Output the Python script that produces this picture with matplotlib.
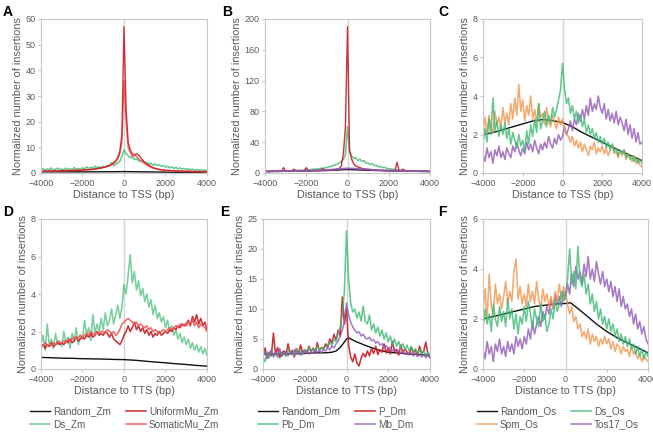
import matplotlib
matplotlib.use("Agg")
import matplotlib.pyplot as plt

plt.rcParams['font.family'] = ['Liberation Sans', 'DejaVu Sans']

# ---------------- data ----------------
x100 = list(range(-4000, 4001, 100))
x500 = list(range(-4000, 4001, 500))

# Panel A (TSS, maize)
A_random = [0.45, 0.45, 0.45, 0.45, 0.45, 0.45, 0.5, 0.5, 0.55, 0.5, 0.45, 0.4, 0.35, 0.3, 0.3, 0.25, 0.25]
A_uniform = [0.7, 0.7, 0.8, 0.7, 0.8, 0.8, 0.8, 0.9, 0.8, 0.9,
             0.9, 0.9, 1.0, 0.9, 1.0, 1.0, 1.1, 1.0, 1.1, 1.1,
             1.2, 1.2, 1.3, 1.3, 1.4, 1.5, 1.6, 1.7, 1.9, 2.0,
             2.2, 2.4, 2.7, 3.0, 3.4, 4.0, 4.8, 6.0, 8.5, 15.0,
             57.0, 25.0, 12.0, 9.0, 7.5, 7.0, 7.5, 7.0, 6.0, 5.0,
             4.2, 3.5, 3.0, 2.5, 2.1, 1.8, 1.6, 1.4, 1.3, 1.2,
             1.1, 1.0, 1.0, 0.9, 0.9, 0.8, 0.8, 0.8, 0.7, 0.7,
             0.7, 0.7, 0.6, 0.6, 0.6, 0.6, 0.6, 0.5, 0.5, 0.5,
             0.5]
A_somatic = [0.6, 0.7, 0.7, 0.7, 0.7, 0.8, 0.8, 0.8, 0.8, 0.8,
             0.9, 0.9, 0.9, 0.9, 1.0, 1.0, 1.0, 1.0, 1.1, 1.1,
             1.1, 1.2, 1.2, 1.3, 1.3, 1.4, 1.5, 1.6, 1.8, 1.9,
             2.1, 2.3, 2.5, 2.8, 3.2, 3.7, 4.4, 5.5, 7.5, 12.0,
             36.0, 20.0, 10.0, 8.0, 6.5, 6.8, 6.5, 5.5, 4.8, 4.2,
             3.6, 3.1, 2.6, 2.2, 1.9, 1.7, 1.5, 1.3, 1.2, 1.1,
             1.0, 0.9, 0.9, 0.8, 0.8, 0.8, 0.7, 0.7, 0.7, 0.6,
             0.6, 0.6, 0.6, 0.5, 0.5, 0.5, 0.5, 0.5, 0.4, 0.4,
             0.4]
A_ds = [1.2, 1.8, 1.0, 1.6, 1.3, 2.0, 1.1, 1.5, 1.9, 1.2,
        1.6, 1.1, 1.9, 1.4, 1.7, 1.2, 2.1, 1.5, 1.8, 1.3,
        2.0, 1.6, 2.3, 1.8, 2.2, 1.9, 2.6, 2.1, 2.4, 2.0,
        2.6, 2.2, 3.0, 2.5, 4.0, 2.8, 3.4, 3.9, 4.6, 6.5,
        9.0, 7.5, 6.8, 5.9, 6.4, 5.2, 5.6, 4.8, 4.4, 4.9,
        3.9, 4.2, 3.4, 3.8, 3.0, 3.6, 2.9, 3.2, 2.6, 2.9,
        2.3, 2.6, 2.0, 2.4, 1.8, 2.2, 1.6, 2.0, 1.5, 1.8,
        1.3, 1.7, 1.2, 1.5, 1.1, 1.4, 1.0, 1.3, 0.9, 1.2,
        1.0]

# Panel B (TSS, Drosophila)
B_random_x = [-4000, -3000, -2000, -1000, -500, 0, 500, 1000, 2000, 3000, 4000]
B_random = [2.0, 2.3, 2.7, 3.2, 3.8, 4.5, 4.0, 3.5, 2.8, 2.3, 2.0]
B_mb_x = [-4000, -3000, -2000, -1500, -1000, -500, 0, 500, 1000, 1500, 2000, 3000, 4000]
B_mb = [2.0, 2.5, 3.0, 3.5, 4.0, 5.0, 6.0, 5.5, 4.5, 3.8, 3.2, 2.5, 2.0]
B_p = [2.0, 2.5, 1.8, 3.0, 2.2, 2.6, 1.9, 3.2, 2.4, 7.0,
       2.5, 3.0, 2.2, 2.8, 5.0, 2.6, 3.2, 2.4, 3.0, 2.7,
       7.0, 3.0, 2.6, 3.4, 2.8, 3.3, 2.9, 3.5, 6.0, 3.2,
       3.6, 3.3, 4.0, 3.8, 4.5, 5.0, 6.0, 9.0, 25.0, 60.0,
       190.0, 30.0, 18.0, 12.0, 9.0, 8.0, 7.0, 6.0, 5.5, 5.0,
       4.8, 4.5, 4.2, 4.0, 3.8, 3.6, 3.5, 3.4, 3.3, 3.2,
       3.0, 3.1, 2.9, 3.0, 14.0, 2.8, 3.0, 5.0, 2.7, 2.9,
       2.6, 2.8, 2.5, 2.7, 2.4, 2.6, 2.3, 2.5, 2.2, 2.4,
       2.0]
B_pb = [1.5, 2.5, 1.0, 2.2, 1.8, 3.0, 1.6, 2.4, 2.0, 2.8,
        2.2, 3.0, 2.5, 3.4, 2.8, 3.6, 3.0, 3.8, 3.2, 4.0,
        3.6, 4.4, 4.0, 5.0, 4.5, 5.6, 5.0, 6.2, 5.6, 6.8,
        7.0, 8.0, 8.5, 9.5, 10.5, 11.5, 13.0, 15.0, 18.0, 24.0,
        60.0, 28.0, 22.0, 19.0, 20.0, 16.0, 18.0, 15.0, 16.0, 13.0,
        13.0, 11.0, 12.0, 9.5, 10.0, 8.0, 8.5, 7.0, 7.5, 6.0,
        5.6, 5.2, 4.8, 4.5, 4.2, 4.0, 3.7, 3.5, 3.3, 3.1,
        3.0, 2.9, 2.7, 2.6, 2.5, 2.4, 2.3, 2.2, 2.1, 2.0,
        2.0]

# Panel C (TSS, rice)
C_random = [2.0, 2.1, 2.25, 2.4, 2.55, 2.7, 2.78, 2.72, 2.62, 2.4, 2.1, 1.85, 1.6, 1.35, 1.1, 0.88, 0.65]
C_spm = [2.2, 2.9, 2.0, 3.0, 2.4, 2.1, 3.2, 2.5, 2.9, 2.3,
         3.4, 2.6, 3.1, 2.5, 3.6, 2.8, 3.9, 3.0, 4.6, 3.2,
         3.8, 2.7, 3.5, 3.0, 4.0, 2.8, 3.3, 2.6, 3.6, 2.9,
         3.1, 2.5, 3.4, 2.7, 2.4, 3.0, 2.6, 2.3, 2.9, 2.5,
         2.8, 2.3, 2.0, 1.9, 1.6, 1.9, 1.4, 1.7, 1.3, 1.6,
         1.1, 1.5, 1.2, 0.9, 1.4, 1.2, 1.6, 1.0, 1.3, 1.1,
         1.4, 1.0, 1.3, 0.9, 1.2, 1.5, 1.0, 1.1, 0.8, 1.2,
         0.9, 1.2, 0.7, 1.0, 0.8, 0.6, 0.9, 0.5, 0.7, 0.4,
         0.3]
C_ds = [1.5, 2.3, 1.6, 2.8, 2.0, 3.9, 2.2, 2.7, 1.9, 2.5,
        2.0, 2.6, 1.8, 2.3, 1.5, 2.1, 1.7, 1.3, 2.0, 1.4,
        1.7, 1.1, 2.2, 1.5, 2.5, 1.9, 2.8, 2.1, 3.6, 2.3,
        2.7, 3.2, 2.4, 3.0, 2.6, 3.4, 2.9, 3.3, 3.8, 4.3,
        5.7, 4.4, 3.6, 3.9, 3.1, 3.5, 2.8, 3.2, 2.6, 3.0,
        2.4, 2.8, 2.1, 2.5, 2.0, 2.3, 1.8, 2.1, 1.6, 1.9,
        1.5, 1.8, 1.3, 1.6, 1.2, 1.5, 1.1, 1.3, 0.9, 1.2,
        1.0, 1.2, 0.8, 1.0, 0.7, 0.9, 0.6, 0.8, 0.5, 0.7,
        0.5]
C_tos17 = [1.0, 0.6, 1.3, 0.8, 1.1, 0.5, 1.2, 0.9, 1.4, 0.8,
           1.1, 0.7, 1.3, 1.0, 0.8, 1.4, 1.1, 1.6, 1.2, 0.9,
           1.3, 1.0, 1.6, 1.2, 1.5, 1.1, 1.7, 1.3, 1.0, 1.5,
           1.2, 1.6, 1.3, 1.9, 1.5, 1.3, 1.8, 1.5, 2.0, 1.7,
           1.9, 2.4, 2.0, 2.3, 2.7, 2.2, 2.8, 2.5, 3.1, 2.7,
           3.3, 2.8, 3.5, 3.0, 3.9, 3.2, 3.6, 3.3, 4.0, 3.4,
           3.1, 3.6, 2.8, 3.3, 2.7, 3.1, 2.6, 3.2, 2.5, 2.9,
           2.6, 2.2, 2.8, 2.0, 2.5, 1.8, 2.3, 1.6, 2.1, 1.5,
           1.6]

# Panel D (TTS, maize)
D_random = [0.62, 0.6, 0.58, 0.57, 0.55, 0.54, 0.53, 0.51, 0.5, 0.47, 0.42, 0.37, 0.33, 0.28, 0.24, 0.19, 0.15]
D_ds = [1.3, 1.8, 1.0, 2.4, 1.2, 1.6, 1.1, 1.9, 1.3, 1.5,
        1.2, 2.0, 1.4, 1.7, 1.1, 1.9, 1.5, 2.2, 1.3, 1.8,
        1.6, 2.6, 1.8, 2.2, 1.5, 2.9, 1.9, 2.4, 2.0, 2.7,
        2.1, 3.0, 2.3, 2.6, 3.2, 2.4, 2.9, 3.4, 2.7, 3.3,
        4.5, 4.0, 5.0, 6.1, 4.6, 5.2, 4.2, 4.7, 3.9, 4.3,
        3.6, 4.0, 3.3, 3.7, 2.9, 3.4, 2.7, 3.0, 2.5, 2.8,
        2.2, 2.6, 2.0, 2.3, 1.8, 2.1, 1.6, 1.9, 1.4, 1.7,
        1.3, 1.6, 1.1, 1.4, 1.0, 1.3, 0.9, 1.2, 0.8, 1.1,
        0.7]
D_uniform = [1.2, 1.3, 1.1, 1.3, 1.2, 1.4, 1.2, 1.3, 1.4, 1.3,
             1.4, 1.3, 1.5, 1.4, 1.6, 1.4, 1.5, 1.7, 1.5, 1.6,
             1.7, 1.6, 1.8, 1.7, 1.9, 1.7, 1.8, 2.0, 1.8, 1.9,
             1.8, 2.0, 1.9, 1.7, 1.9, 1.6, 1.5, 1.4, 1.3, 1.5,
             1.8, 2.0, 2.3, 2.0, 2.2, 2.5, 2.1, 2.3, 2.0, 2.2,
             1.9, 2.1, 1.8, 2.0, 1.7, 1.9, 1.8, 2.0, 1.8, 1.9,
             2.0, 1.9, 2.1, 2.0, 2.2, 2.1, 2.3, 2.2, 2.4, 2.3,
             2.4, 2.6, 2.3, 2.8, 2.5, 2.9, 2.4, 2.7, 2.3, 2.5,
             2.1]
D_somatic = [1.3, 1.2, 1.4, 1.3, 1.2, 1.3, 1.4, 1.3, 1.5, 1.4,
             1.4, 1.5, 1.4, 1.6, 1.5, 1.6, 1.7, 1.6, 1.7, 1.8,
             1.7, 1.8, 1.9, 1.8, 2.0, 1.9, 1.8, 2.0, 1.9, 2.0,
             2.0, 1.9, 2.1, 2.0, 1.9, 2.0, 1.8, 1.9, 2.1, 2.4,
             2.5, 2.6, 2.7, 2.6, 2.5, 2.4, 2.5, 2.3, 2.4, 2.3,
             2.2, 2.3, 2.1, 2.2, 2.0, 2.1, 2.0, 1.9, 2.0, 2.1,
             2.0, 2.1, 2.2, 2.1, 2.2, 2.3, 2.2, 2.4, 2.3, 2.4,
             2.3, 2.5, 2.4, 2.6, 2.3, 2.5, 2.2, 2.4, 2.3, 2.2,
             2.0]

# Panel E (TTS, Drosophila)
E_random_x = [-4000, -3000, -2000, -1500, -1000, -700, -500, -300, -100, 0, 100, 200, 500, 1000, 1500, 2000, 3000, 4000]
E_random = [2.5, 2.5, 2.6, 2.7, 2.7, 2.8, 3.0, 3.6, 4.5, 5.0, 5.2, 5.0, 4.5, 3.8, 3.2, 2.8, 2.5, 2.3]
E_p = [2.5, 3.5, 1.8, 2.8, 2.2, 6.0, 2.4, 3.6, 1.9, 2.7,
       3.0, 2.3, 4.2, 2.6, 3.1, 2.0, 3.4, 2.5, 4.0, 2.8,
       3.2, 2.6, 3.8, 2.9, 3.5, 2.7, 4.4, 3.0, 3.6, 3.3,
       4.2, 3.6, 5.0, 4.3, 5.8, 4.8, 6.5, 5.5, 12.0, 7.5,
       10.0, 4.0, 2.0, 1.2, 2.5, 1.0, 0.5, 1.8, 2.6, 2.0,
       3.0, 2.2, 3.4, 2.6, 3.8, 2.4, 3.2, 2.8, 4.2, 2.7,
       3.5, 2.5, 4.6, 2.9, 3.3, 2.3, 4.0, 2.6, 3.4, 2.8,
       2.4, 3.6, 2.7, 3.2, 2.2, 3.8, 2.6, 3.0, 4.5, 2.5,
       2.0]
E_pb = [2.0, 1.2, 2.8, 1.8, 3.0, 2.2, 2.6, 1.9, 3.2, 2.4,
        2.7, 2.1, 3.3, 2.5, 2.9, 2.2, 3.4, 2.6, 3.0, 2.4,
        3.2, 2.7, 3.6, 2.9, 3.4, 3.0, 3.8, 3.1, 3.5, 3.3,
        3.7, 4.0, 4.4, 3.9, 5.0, 4.6, 6.0, 7.0, 9.0, 13.0,
        23.0, 15.0, 11.0, 9.5, 10.0, 8.5, 9.5, 8.0, 10.5, 8.0,
        7.5, 9.0, 6.5, 7.5, 6.0, 7.0, 5.5, 6.5, 5.0, 6.0,
        4.5, 5.5, 4.0, 5.0, 3.8, 4.6, 3.5, 4.2, 3.2, 4.0,
        3.0, 3.8, 2.8, 3.4, 2.6, 3.2, 2.5, 3.0, 2.3, 2.8,
        2.2]
E_mb = [2.2, 2.8, 1.8, 2.5, 3.2, 2.0, 2.7, 2.3, 3.4, 2.1,
        2.6, 3.0, 2.2, 2.8, 2.4, 3.2, 2.5, 2.9, 2.3, 3.0,
        2.7, 3.1, 2.5, 2.9, 2.6, 3.3, 2.8, 3.0, 2.7, 3.2,
        3.0, 3.5, 3.2, 3.8, 3.5, 4.2, 4.6, 5.5, 6.5, 8.0,
        11.0, 9.0, 7.8, 7.0, 6.5, 6.0, 6.2, 5.5, 5.8, 5.2,
        5.0, 5.3, 4.7, 4.9, 4.3, 4.6, 4.0, 4.2, 3.7, 3.9,
        3.4, 3.6, 3.0, 3.3, 2.8, 3.1, 2.6, 2.9, 2.5, 2.8,
        2.4, 2.7, 2.2, 2.6, 2.1, 2.5, 2.0, 2.4, 1.9, 2.3,
        1.8]

# Panel F (TTS, rice)
F_random_x = [-4000, -3500, -3000, -2500, -2000, -1500, -1000, -500, 0, 250, 1000, 1500, 2000, 2500, 3000, 3500, 4000]
F_random = [2.0, 2.1, 2.2, 2.3, 2.4, 2.5, 2.55, 2.6, 2.62, 2.65, 2.15, 1.8, 1.5, 1.25, 1.05, 0.85, 0.65]
F_spm = [2.3, 3.2, 2.0, 3.8, 2.5, 2.2, 3.4, 2.6, 3.0, 2.4,
         2.9, 3.5, 2.6, 3.1, 2.7, 3.9, 4.4, 2.8, 3.3, 2.6,
         3.0, 2.5, 3.4, 2.7, 3.1, 2.6, 3.5, 2.8, 2.4, 3.2,
         2.7, 3.0, 2.5, 2.9, 2.4, 3.1, 2.7, 3.4, 2.8, 3.3,
         3.0, 2.6, 2.2, 2.5, 1.9, 2.1, 1.6, 1.8, 1.3, 1.5,
         1.2, 1.6, 1.0, 1.4, 1.1, 1.3, 0.9, 1.2, 1.0, 1.3,
         1.0, 1.2, 0.8, 1.1, 0.7, 1.0, 0.9, 0.6, 0.9, 0.7,
         0.8, 0.5, 0.9, 0.6, 0.7, 0.4, 0.6, 0.3, 0.5, 0.4,
         0.3]
F_ds = [1.6, 2.4, 1.8, 2.2, 1.5, 2.6, 2.0, 1.7, 2.5, 1.9,
        2.3, 1.7, 2.8, 2.0, 2.4, 1.6, 2.2, 1.4, 2.1, 1.8,
        2.5, 1.9, 2.7, 2.2, 1.6, 2.4, 2.0, 1.7, 2.6, 1.9,
        2.2, 1.5, 1.8, 2.4, 2.0, 2.8, 2.3, 2.6, 3.1, 2.7,
        3.0, 3.6, 4.8, 3.4, 3.9, 3.2, 4.9, 3.6, 3.3, 3.8,
        3.0, 3.4, 2.6, 3.0, 2.3, 2.7, 2.0, 2.4, 1.8, 2.1,
        1.6, 2.0, 1.5, 1.8, 1.3, 1.6, 1.1, 1.4, 1.0, 1.3,
        0.9, 1.2, 0.8, 1.0, 0.6, 0.9, 0.5, 0.8, 0.4, 0.7,
        0.5]
F_tos17 = [0.8, 0.4, 1.1, 0.6, 0.9, 0.3, 1.0, 0.7, 1.2, 0.6,
           0.9, 0.5, 1.1, 0.7, 1.0, 0.6, 1.3, 0.9, 1.2, 0.8,
           1.3, 1.0, 1.6, 1.2, 1.9, 1.4, 1.8, 2.1, 1.7, 2.3,
           2.0, 2.5, 2.2, 2.8, 2.4, 3.0, 2.6, 2.9, 2.5, 3.1,
           2.8, 3.4, 3.0, 3.8, 3.3, 4.1, 3.6, 3.9, 3.4, 4.2,
           3.7, 4.5, 3.6, 4.0, 3.5, 4.3, 3.8, 3.4, 3.9, 3.3,
           3.6, 3.1, 3.5, 2.9, 3.3, 2.7, 3.2, 2.5, 2.9, 2.4,
           2.6, 2.1, 2.4, 1.8, 2.2, 1.6, 1.9, 1.4, 1.7, 1.2,
           1.0]

# ---------------- styles ----------------
BLACK = '#111111'
RED_DARK = '#c81e24'
RED_LIGHT = '#f05a5a'
GREEN = '#3fba74'
ORANGE = '#f2954e'
PURPLE = '#9159b8'
GRID = '#c8c8c8'
TXT = '#595959'

fig = plt.figure(figsize=(6.53, 4.32), dpi=100)
W, H = 653.0, 432.0

def make_ax(l, r, t, b):
    return fig.add_axes([l / W, (H - b) / H, (r - l) / W, (b - t) / H])

axA = make_ax(41, 207, 19, 173)
axB = make_ax(265, 430, 19, 173)
axC = make_ax(483, 642, 19, 173)
axD = make_ax(41, 207, 219, 369)
axE = make_ax(263, 430, 219, 369)
axF = make_ax(483, 648, 219, 369)

def style(ax, ymax, ystep, xlabel):
    ax.set_xlim(-4000, 4000)
    ax.set_ylim(0, ymax)
    ax.set_xticks([-4000, -2000, 0, 2000, 4000])
    yt = []
    v = 0
    while v <= ymax + 1e-9:
        yt.append(v)
        v += ystep
    ax.set_yticks(yt)
    for s in ax.spines.values():
        s.set_color(GRID)
        s.set_linewidth(0.8)
    ax.tick_params(colors=GRID, labelcolor=TXT, labelsize=6.5, length=2.5, width=0.8, pad=1.5)
    ax.axvline(0, color='#d4d4d4', lw=1.0, zorder=0)
    ax.set_xlabel(xlabel, fontsize=7.8, color=TXT, labelpad=2)
    ax.set_ylabel('Normalized number of insertions', fontsize=7.8, color=TXT, labelpad=2)

lw = 1.0
nw = 1.15
al = 0.8

# A
axA.plot(x500, A_random, color=BLACK, lw=lw, label='Random_Zm')
axA.plot(x100, A_ds, color=GREEN, lw=nw, alpha=al, label='Ds_Zm')
axA.plot(x100, A_somatic, color=RED_LIGHT, lw=lw, alpha=0.9, label='SomaticMu_Zm')
axA.plot(x100, A_uniform, color=RED_DARK, lw=lw, alpha=0.9, label='UniformMu_Zm')
style(axA, 60, 10, 'Distance to TSS (bp)')

# B
axB.plot(B_random_x, B_random, color=BLACK, lw=lw)
axB.plot(x100, B_pb, color=GREEN, lw=nw, alpha=al)
axB.plot(x100, B_p, color=RED_DARK, lw=lw, alpha=0.9)
axB.plot(B_mb_x, B_mb, color=PURPLE, lw=1.3, alpha=0.9)
style(axB, 200, 40, 'Distance to TSS (bp)')

# C
axC.plot(x500, C_random, color=BLACK, lw=lw)
axC.plot(x100, C_tos17, color=PURPLE, lw=nw, alpha=al)
axC.plot(x100, C_spm, color=ORANGE, lw=nw, alpha=al)
axC.plot(x100, C_ds, color=GREEN, lw=nw, alpha=al)
style(axC, 8, 2, 'Distance to TSS (bp)')

# D
lD_r, = axD.plot(x500, D_random, color=BLACK, lw=lw, label='Random_Zm')
lD_d, = axD.plot(x100, D_ds, color=GREEN, lw=nw, alpha=0.7, label='Ds_Zm')
lD_u, = axD.plot(x100, D_uniform, color=RED_DARK, lw=nw, alpha=0.9, label='UniformMu_Zm')
lD_s, = axD.plot(x100, D_somatic, color=RED_LIGHT, lw=nw, alpha=0.9, label='SomaticMu_Zm')
style(axD, 8, 2, 'Distance to TTS (bp)')

# E
lE_r, = axE.plot(E_random_x, E_random, color=BLACK, lw=lw, label='Random_Dm')
lE_p, = axE.plot(x100, E_p, color=RED_DARK, lw=nw, alpha=0.9, label='P_Dm')
lE_b, = axE.plot(x100, E_pb, color=GREEN, lw=nw, alpha=al, label='Pb_Dm')
lE_m, = axE.plot(x100, E_mb, color=PURPLE, lw=nw, alpha=al, label='Mb_Dm')
style(axE, 25, 5, 'Distance to TTS (bp)')

# F
lF_r, = axF.plot(F_random_x, F_random, color=BLACK, lw=lw, label='Random_Os')
lF_t, = axF.plot(x100, F_tos17, color=PURPLE, lw=nw, alpha=al, label='Tos17_Os')
lF_s, = axF.plot(x100, F_spm, color=ORANGE, lw=nw, alpha=al, label='Spm_Os')
lF_d, = axF.plot(x100, F_ds, color=GREEN, lw=nw, alpha=al, label='Ds_Os')
style(axF, 6, 2, 'Distance to TTS (bp)')

def legend(handles, xpx):
    leg = fig.legend(handles=handles, loc='upper left',
                     bbox_to_anchor=(xpx / W, (H - 406) / H), ncol=2, frameon=False,
                     fontsize=7.2, handlelength=2.0, handletextpad=0.3,
                     columnspacing=1.5, labelspacing=0.35, borderpad=0, borderaxespad=0)
    for t in leg.get_texts():
        t.set_color(TXT)

legend([lD_r, lD_d, lD_u, lD_s], 30)
legend([lE_r, lE_b, lE_p, lE_m], 258)
legend([lF_r, lF_s, lF_d, lF_t], 477)

for lab, (px, py) in zip('ABCDEF', [(3, 12), (222, 12), (438, 12), (3, 212), (220, 212), (438, 212)]):
    fig.text(px / W, 1 - py / H, lab, fontsize=10, fontweight='bold', va='center', ha='left', color='black')

fig.savefig('out.png', dpi=100)
